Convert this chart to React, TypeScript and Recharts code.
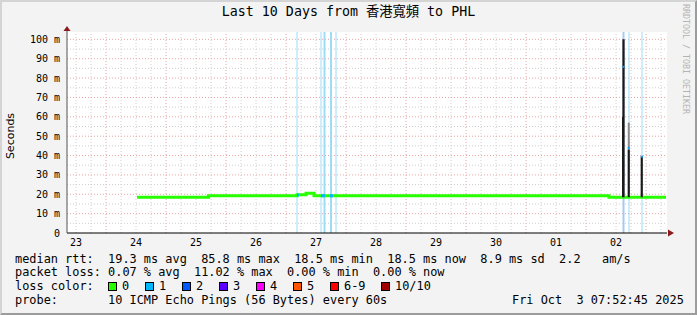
import React from 'react';
import { ComposedChart, Line, XAxis, YAxis, ReferenceLine, ReferenceArea, ReferenceDot } from 'recharts';

// time axis: hours since Sep 23 00:00
const dayLabels = ['23', '24', '25', '26', '27', '28', '29', '30', '01', '02'];
const yTicks = [0, 10, 20, 30, 40, 50, 60, 70, 80, 90, 100];

// median rtt (ms), drawn as steps
const medianTimes = [36.4, 65.0, 100.4, 104.0, 107.2, 225.2, 248.0];
const medianValues = [18.4, 19.2, 19.8, 20.5, 19.2, 18.5, 18.5];

// stretches where the median was drawn in the "1 lost" colour
const lossStart = [100.4, 110.0, 113.6];
const lossEnd = [101.2, 111.6, 114.8];
const lossValue = [19.6, 19.2, 19.2];

// full height loss markers
const lossLineTimes = [100.4, 110.0, 111.4, 114.0, 116.0, 231.0, 233.2, 238.4];

// smoke spikes near Oct 2
const spikeTimes = [230.6, 231.0, 233.1, 238.3];
const spikeBase = [18.5, 18.5, 18.5, 18.5];
const spikeTops = [60, 100, 43, 39.5];
const spikeSmokeTops = [60, 100, 57, 39.5];
const spikeMedians = [85.8, 44, 39.4];
const spikeMedianTimes = [231.0, 233.1, 238.3];

const lossLabels = ['0', '1', '2', '3', '4', '5', '6-9', '10/10'];
const lossColors = ['#26ff00', '#00b8ff', '#0059ff', '#5e00ff', '#ff00ff', '#ff5500', '#ff0000', '#a10000'];
const swatchX = [108, 145, 182, 219, 256, 293, 330, 381];

const X0 = 8.4;
const X1 = 248.4;
const YMAX = 103.8;

const mono = '"DejaVu Sans Mono", monospace';

const UpArrow = (p: any) => (
  <g>
    <line x1={p.cx} y1={p.cy} x2={p.cx} y2={p.cy - 3} stroke="#555" />
    <polygon points={`${p.cx - 3.5},${p.cy - 1} ${p.cx + 3.5},${p.cy - 1} ${p.cx},${p.cy - 6}`} fill="#8b1a1a" />
  </g>
);
const RightArrow = (p: any) => (
  <polygon points={`${p.cx + 1},${p.cy - 3.5} ${p.cx + 1},${p.cy + 3.5} ${p.cx + 7},${p.cy}`} fill="#8b1a1a" />
);
const MedDot = (p: any) => (
  <rect x={p.cx - 1} y={p.cy - 1} width={2} height={2} fill="#00a0ff" />
);

export default function App() {
  const median = medianTimes.map((h, i) => ({ h, v: medianValues[i] }));
  const lossSegs: any[] = [];
  lossStart.forEach((s, i) => {
    lossSegs.push({ h: s, v: lossValue[i] });
    lossSegs.push({ h: lossEnd[i], v: lossValue[i] });
    lossSegs.push({ h: lossEnd[i], v: null });
  });
  const medDots = spikeMedianTimes.map((h, i) => ({ h, v: spikeMedians[i] }));

  const vGrid: number[] = [];
  for (let h = 12; h < X1; h += 6) vGrid.push(h);
  const hGrid: number[] = [];
  for (let v = 5; v <= 100; v += 5) hGrid.push(v);
  const dayTicks = dayLabels.map((_, i) => 12 + i * 24);

  const row = (top: number): React.CSSProperties => ({
    position: 'absolute', left: 15, top, fontFamily: mono, fontSize: 11.9,
    lineHeight: '14px', whiteSpace: 'pre', color: '#000'
  });

  return (
    <div style={{
      position: 'absolute', left: 0, top: 0, width: 697, height: 315, background: '#f3f3f3',
      boxSizing: 'border-box', borderTop: '2px solid #d4d4d4', borderLeft: '2px solid #d4d4d4',
      borderRight: '2px solid #9c9c9c', borderBottom: '2px solid #9c9c9c', overflow: 'hidden'
    }}>
      <div style={{ position: 'absolute', left: -2, top: -2 }}>
        <ComposedChart width={697} height={315} margin={{ top: 32, right: 30, bottom: 62, left: 0 }}>
          <XAxis type="number" dataKey="h" domain={[X0, X1]} ticks={dayTicks} allowDataOverflow
            tickFormatter={(v: number) => dayLabels[Math.round((v - 12) / 24)]}
            tickLine={false} tickSize={0} tickMargin={6} height={20}
            axisLine={{ stroke: '#000' }}
            tick={{ fontFamily: mono, fontSize: 10, fill: '#000' }} />
          <YAxis type="number" domain={[0, YMAX]} ticks={yTicks} allowDataOverflow width={67}
            tickFormatter={(v: number) => (v === 0 ? '0' : `${v} m`)}
            tickLine={false} tickSize={0} tickMargin={7}
            axisLine={{ stroke: '#555' }}
            tick={{ fontFamily: mono, fontSize: 10, fill: '#000' }} />
          <ReferenceArea x1={X0} x2={X1} y1={0} y2={YMAX} fill="#fff" fillOpacity={1} stroke="none" />
          {vGrid.map(h => (
            <ReferenceLine key={'v' + h} x={h} stroke={h % 24 === 0 ? '#e9a4a4' : '#cfcfcf'} strokeDasharray="1 2" />
          ))}
          {hGrid.map(v => (
            <ReferenceLine key={'h' + v} y={v} stroke={v % 10 === 0 ? '#e9a4a4' : '#cfcfcf'} strokeDasharray="1 2" />
          ))}
          {lossLineTimes.map((h, i) => (
            <ReferenceLine key={'l' + i} x={h} stroke={i === 5 ? '#a9c8f2' : '#9edcf6'}
              strokeWidth={i === 2 || i === 3 || i === 5 ? 2 : 1} />
          ))}
          <Line data={median} dataKey="v" type="stepAfter" stroke="#26ff00" strokeWidth={3}
            dot={false} isAnimationActive={false} />
          <Line data={lossSegs} dataKey="v" type="linear" stroke="#00b8ff" strokeWidth={3}
            dot={false} isAnimationActive={false} connectNulls={false} />
          {spikeTimes.map((h, i) => (
            <Line key={'sg' + i} data={[{ h, v: spikeBase[i] }, { h, v: spikeSmokeTops[i] }]} dataKey="v"
              type="linear" stroke="#888" strokeWidth={i === 0 ? 1 : 2} dot={false} isAnimationActive={false} />
          ))}
          {spikeTimes.map((h, i) => (
            <Line key={'sp' + i} data={[{ h, v: spikeBase[i] }, { h, v: spikeTops[i] }]} dataKey="v"
              type="linear" stroke="#1a1a1a" strokeWidth={i === 0 ? 1 : 2} dot={false} isAnimationActive={false} />
          ))}
          <Line data={medDots} dataKey="v" stroke="none" dot={<MedDot />} isAnimationActive={false} />
          <ReferenceDot x={X0} y={YMAX} r={0} ifOverflow="visible" shape={<UpArrow />} />
          <ReferenceDot x={X1} y={0} r={0} ifOverflow="visible" shape={<RightArrow />} />
        </ComposedChart>

        <div style={{
          position: 'absolute', left: 0, width: 697, top: 4, textAlign: 'center',
          fontFamily: mono + ', "Noto Sans CJK TC"', fontSize: 13.3, lineHeight: '16px', color: '#000'
        }}>Last 10 Days from 香港寬頻 to PHL</div>

        <div style={{
          position: 'absolute', left: 10, top: 136, transform: 'translate(-50%, -50%) rotate(-90deg)',
          fontFamily: '"DejaVu Sans", sans-serif', fontSize: 11, color: '#000', whiteSpace: 'nowrap'
        }}>Seconds</div>

        <div style={{
          position: 'absolute', left: 681, top: 4, writingMode: 'vertical-rl', fontFamily: mono,
          fontSize: 8.3, color: '#b4b4b4', whiteSpace: 'nowrap'
        }}>RRDTOOL / TOBI OETIKER</div>

        <div style={row(252)}>median rtt:  19.3 ms avg  85.8 ms max  18.5 ms min  18.5 ms now  8.9 ms sd  2.2   am/s</div>
        <div style={row(265)}>packet loss: 0.07 % avg  11.02 % max  0.00 % min  0.00 % now</div>
        <div style={row(279)}>loss color:</div>
        {lossLabels.map((lab, i) => (
          <React.Fragment key={lab}>
            <div style={{
              position: 'absolute', left: swatchX[i], top: 282, width: 9, height: 9, boxSizing: 'border-box',
              border: '1px solid #000', background: lossColors[i]
            }} />
            <div style={{ ...row(279), left: swatchX[i] + 14 }}>{lab}</div>
          </React.Fragment>
        ))}
        <div style={row(293)}>probe:       10 ICMP Echo Pings (56 Bytes) every 60s</div>
        <div style={{ ...row(293), left: 512 }}>Fri Oct  3 07:52:45 2025</div>
      </div>
    </div>
  );
}
